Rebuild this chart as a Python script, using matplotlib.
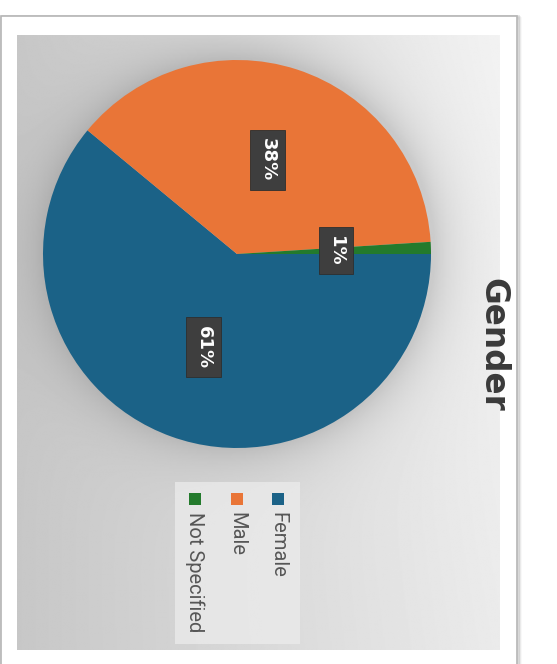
import numpy as np
import matplotlib.pyplot as plt
from matplotlib.patches import Rectangle

categories = ['Female', 'Male', 'Not Specified']
shares = [61, 38, 1]
colors = ['#1b6287', '#e97537', '#237a2c']
title = 'Gender'

W, H = 557, 664
fig = plt.figure(figsize=(W / 100, H / 100), dpi=100)
fig.patch.set_facecolor('white')

# full-figure axes in pixel units (y down) for the card, panel, title, legend
bg = fig.add_axes([0, 0, 1, 1])
bg.set_xlim(0, W)
bg.set_ylim(H, 0)
bg.axis('off')

# card with a thin grey outline and soft shadow
for i, a in enumerate([0.10, 0.06, 0.03]):
    bg.add_patch(Rectangle((1 + i, 16 + i), 517, 680, fill=False,
                           edgecolor='black', alpha=a, lw=2, zorder=1))
bg.add_patch(Rectangle((1, 16), 516, 680, facecolor='white',
                       edgecolor='#b5b5b5', lw=1.2, zorder=2))

# grey gradient panel, darker to the left, with a shadow round the pie
px0, px1, py0, py1 = 17, 500, 35, 650
cx, cy, r = 237, 254, 194
xs = np.linspace(px0, px1, 400)
ys = np.linspace(py0, py1, 500)
X, Y = np.meshgrid(xs, ys)
t = (X - px0) / (px1 - px0)
base = 0.78 + 0.17 * t - 0.03 * ((Y - py0) / (py1 - py0)) * t
d = np.hypot(X - cx - 4, Y - cy + 2) - r
shadow = 0.12 * np.exp(-np.clip(d, 0, None) / 24.0)
img = np.clip(base - shadow, 0, 1)
bg.imshow(img, cmap='gray', vmin=0, vmax=1, extent=(px0, px1, py1, py0),
          aspect='auto', zorder=3, interpolation='bilinear')

# title, reading top to bottom
bg.text(493, 345, title, rotation=-90, ha='center', va='center',
        fontsize=23.5, fontweight='bold', color='#3a3a3a',
        family='DejaVu Sans', zorder=5)

# legend panel, rotated with the chart
bg.add_patch(Rectangle((175, 482), 125, 162, facecolor='#ececec',
                       alpha=0.75, edgecolor='none', zorder=4))
for k, (name, col) in enumerate(zip(categories, colors)):
    lx = 278 - 41.5 * k
    bg.add_patch(Rectangle((lx - 6, 493), 12, 12, facecolor=col,
                           edgecolor='none', zorder=5))
    bg.text(lx, 512, name, rotation=-90, ha='center', va='top',
            fontsize=14.5, color='#565656', family='Roboto', zorder=5)

# the pie itself
ax = fig.add_axes([(cx - r) / W, (H - cy - r) / H, 2 * r / W, 2 * r / H])
ax.set_zorder(6)
wedges, texts, autotexts = ax.pie(
    shares, colors=colors, startangle=0, counterclock=False,
    autopct='%.0f%%', pctdistance=0.51,
    wedgeprops=dict(linewidth=0),
    textprops=dict(color='white', fontsize=13, fontweight='bold',
                   family='DejaVu Sans'))
for tx in autotexts:
    tx.set_rotation(-90)
    tx.set_bbox(dict(boxstyle='square,pad=0.45', facecolor='#3e3e3e',
                     edgecolor='#2e2e2e', lw=0.6))
ax.set_xlim(-1, 1)
ax.set_ylim(-1, 1)
ax.axis('off')

fig.savefig('out.png', dpi=100)
